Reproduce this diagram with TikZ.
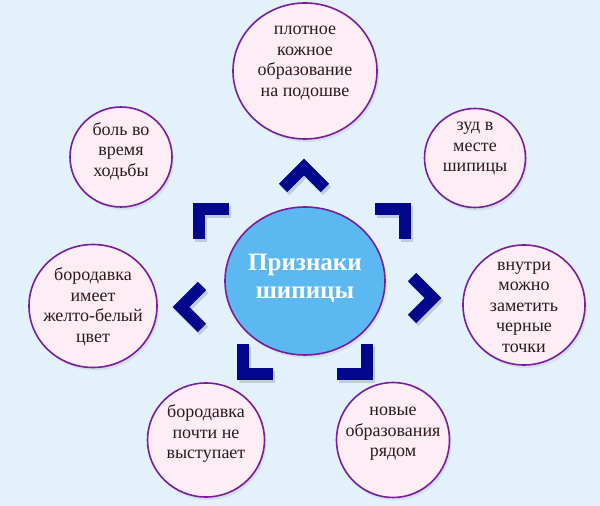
\documentclass[tikz,border=0pt]{standalone}
\usepackage{fontspec}
\setmainfont{Liberation Serif}
\usetikzlibrary{shapes.geometric,shadows}
\definecolor{bgblue}{HTML}{E3F1FB}
\definecolor{ringpurple}{HTML}{7B1C9C}
\definecolor{petalpink}{HTML}{FDEEF5}
\definecolor{hubblue}{HTML}{5BB8F1}
\definecolor{chevnavy}{HTML}{02078C}
\definecolor{inktext}{HTML}{2B1B1B}
\begin{document}
\begin{tikzpicture}[x=1pt, y=1pt, line join=miter,
petal/.style={ellipse, draw=ringpurple, line width=1.6pt, fill=petalpink, inner sep=0pt,
  drop shadow={shadow xshift=2pt, shadow yshift=-3pt, opacity=0.15}},
hub/.style={petal, fill=hubblue},
txt/.style={align=center, text=inktext, font=\fontsize{18}{20.5}\selectfont},
hubtxt/.style={align=center, text=white, font=\fontsize{25}{28}\selectfont\bfseries},
chev/.style={draw=chevnavy, line width=12pt, line cap=butt}]
\def\chevron#1#2#3{\draw[black, opacity=0.15, line width=12pt, shift={(#1+2,#2-3)}, rotate=#3] (-21,21)--(0,0)--(-21,-21);
\draw[chev, shift={(#1,#2)}, rotate=#3] (-21,21)--(0,0)--(-21,-21);}
\useasboundingbox (0,0) rectangle (600,506);
\fill[bgblue] (0,0) rectangle (600,506);
% centre
\node[hub, minimum width=160pt, minimum height=148pt] (hub) at (305,225) {};
\node[hubtxt] (hub-t) at ([yshift=3pt]hub.center) {Признаки\\шипицы};
% petals
\node[petal, minimum width=144pt, minimum height=136pt] (sole) at (305,435) {};
\node[petal, minimum width=102pt, minimum height=100pt] (pain) at (121,349) {};
\node[petal, minimum width=101pt, minimum height=99pt] (itch) at (475,348) {};
\node[petal, minimum width=128pt, minimum height=123pt] (colour) at (93,200) {};
\node[petal, minimum width=122pt, minimum height=120pt] (dots) at (524,201) {};
\node[petal, minimum width=117pt, minimum height=114pt] (flat) at (206,66) {};
\node[petal, minimum width=113pt, minimum height=115pt] (near) at (393,66) {};
\node[txt] (sole-t) at ([yshift=8pt]sole.center) {плотное\\кожное\\образование\\на подошве};
\node[txt] (pain-t) at ([yshift=6pt]pain.center) {боль во\\время\\ходьбы};
\node[txt] (itch-t) at ([yshift=9pt]itch.center) {зуд в\\месте\\шипицы};
\node[txt] (colour-t) at ([yshift=-1pt]colour.center) {бородавка\\имеет\\желто-белый\\цвет};
\node[txt] (dots-t) at ([yshift=-2pt]dots.center) {внутри\\можно\\заметить\\черные\\точки};
\node[txt] (flat-t) at ([yshift=6pt]flat.center) {бородавка\\почти не\\выступает};
\node[txt] (near-t) at ([yshift=6pt]near.center) {новые\\образования\\рядом};
% chevrons
\chevron{304}{339}{90}
\chevron{405}{297}{45}
\chevron{433}{208}{0}
\chevron{367}{132}{-45}
\chevron{243}{132}{-135}
\chevron{181}{199}{180}
\chevron{199}{297}{135}
\end{tikzpicture}
\end{document}
